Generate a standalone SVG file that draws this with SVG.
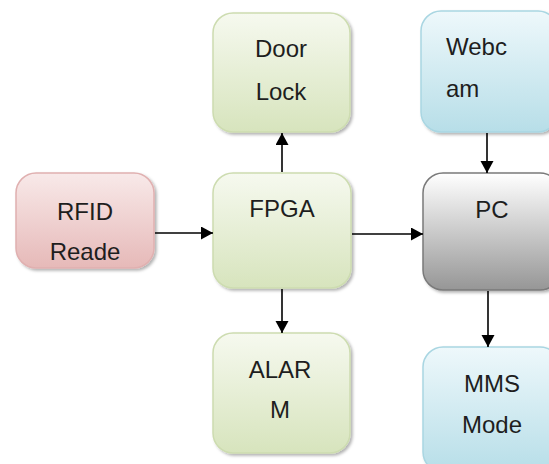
<svg xmlns="http://www.w3.org/2000/svg" width="549" height="464" viewBox="0 0 549 464">
<defs>
<linearGradient id="gPink" x1="0" y1="0" x2="0" y2="1"><stop offset="0" stop-color="#f8e9e9"/><stop offset="1" stop-color="#e6b9b8"/></linearGradient>
<linearGradient id="gGreen" x1="0" y1="0" x2="0" y2="1"><stop offset="0" stop-color="#f6f9ef"/><stop offset="1" stop-color="#d7e4bd"/></linearGradient>
<linearGradient id="gBlue" x1="0" y1="0" x2="0" y2="1"><stop offset="0" stop-color="#eef8fb"/><stop offset="1" stop-color="#b7dee8"/></linearGradient>
<linearGradient id="gGray" x1="0" y1="0" x2="0" y2="1"><stop offset="0" stop-color="#ffffff"/><stop offset="1" stop-color="#969696"/></linearGradient>
<filter id="sh" x="-10%" y="-10%" width="125%" height="125%"><feDropShadow dx="2" dy="2" stdDeviation="1.5" flood-color="#000" flood-opacity="0.3"/></filter>
<marker id="arr" markerUnits="userSpaceOnUse" markerWidth="14" markerHeight="14" refX="12" refY="6.5" orient="auto"><path d="M0,0 L12,6.5 L0,13 Z" fill="#000"/></marker>
</defs>
<style>
.box{stroke-width:1.5;filter:url(#sh)}
.pink{fill:url(#gPink);stroke:#e0b0b0}
.green{fill:url(#gGreen);stroke:#cddcb0}
.blue{fill:url(#gBlue);stroke:#a9d6e2}
.gray{fill:url(#gGray);stroke:#7a7a7a}
text{font-family:"Liberation Sans",Arial,sans-serif;font-size:24px;fill:#1e1e1e;text-anchor:middle}
.conn line{stroke:#000;stroke-width:1.6;marker-end:url(#arr)}
</style>
<g id="rfid"><rect class="box pink" x="16" y="173" width="138" height="95" rx="20"/><text x="85" y="220">RFID</text><text x="85" y="260">Reade</text></g>
<g id="doorlock"><rect class="box green" x="213" y="13" width="137" height="119" rx="20"/><text x="281" y="57">Door</text><text x="281" y="100">Lock</text></g>
<g id="fpga"><rect class="box green" x="213" y="173" width="138" height="115" rx="20"/><text x="282" y="217">FPGA</text></g>
<g id="alarm"><rect class="box green" x="213" y="333" width="137" height="120" rx="20"/><text x="280" y="378">ALAR</text><text x="280" y="418">M</text></g>
<g id="webcam"><rect class="box blue" x="421" y="11" width="137" height="121" rx="20"/><text x="446" y="55" style="text-anchor:start">Webc</text><text x="446" y="97" style="text-anchor:start">am</text></g>
<g id="pc"><rect class="box gray" x="423" y="173" width="137" height="117" rx="20"/><text x="492" y="218">PC</text></g>
<g id="mms"><rect class="box blue" x="423" y="347" width="137" height="125" rx="20"/><text x="492" y="392">MMS</text><text x="492" y="433">Mode</text></g>
<g id="connectors" class="conn">
<line x1="155" y1="233" x2="213" y2="233"/>
<line x1="282" y1="172" x2="282" y2="133"/>
<line x1="282" y1="289" x2="282" y2="333"/>
<line x1="352" y1="234" x2="423" y2="234"/>
<line x1="487" y1="133" x2="487" y2="173"/>
<line x1="488" y1="291" x2="488" y2="347"/>
</g>
</svg>
